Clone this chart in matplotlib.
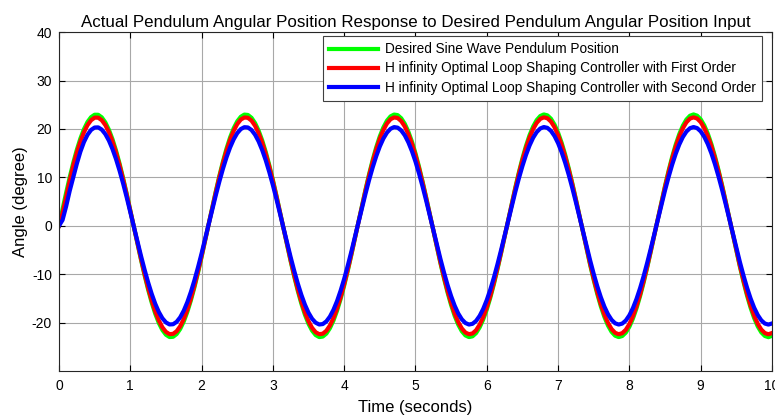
import numpy as np
import matplotlib

matplotlib.use("Agg")
import matplotlib.pyplot as plt

# sample times (s), 0.05 s step
time_s = np.linspace(0.0, 10.0, 201)

# desired sine wave pendulum position (deg)
desired = [
    0.00, 3.44, 6.80, 10.00, 12.99, 15.68, 18.02, 19.95, 21.44, 22.44,
    22.94, 22.93, 22.40, 21.36, 19.85, 17.90, 15.54, 12.83, 9.83, 6.61,
    3.25, -0.19, -3.63, -6.98, -10.18, -13.15, -15.82, -18.14, -20.05, -21.51,
    -22.48, -22.96, -22.91, -22.35, -21.29, -19.76, -17.77, -15.39, -12.67, -9.66,
    -6.43, -3.05, 0.39, 3.82, 7.16, 10.35, 13.30, 15.96, 18.26, 20.14,
    21.57, 22.52, 22.97, 22.89, 22.31, 21.22, 19.66, 17.65, 15.25, 12.51,
    9.48, 6.24, 2.86, -0.58, -4.01, -7.35, -10.52, -13.46, -16.10, -18.37,
    -20.23, -21.64, -22.55, -22.97, -22.86, -22.25, -21.13, -19.54, -17.52, -15.10,
    -12.34, -9.30, -6.05, -2.67, 0.77, 4.20, 7.53, 10.70, 13.62, 16.24,
    18.49, 20.33, 21.71, 22.60, 22.98, 22.86, 22.21, 21.07, 19.45, 17.40,
    14.96, 12.18, 9.12, 5.87, 2.48, -0.97, -4.39, -7.71, -10.87, -13.77,
    -16.37, -18.60, -20.41, -21.76, -22.62, -22.97, -22.81, -22.14, -20.96, -19.33,
    -17.27, -14.81, -12.02, -8.95, -5.68, -2.29, 1.16, 4.58, 7.90, 11.04,
    13.93, 16.51, 18.72, 20.50, 21.83, 22.67, 23.00, 22.81, 22.11, 20.91,
    19.24, 17.15, 14.66, 11.85, 8.77, 5.49, 2.10, -1.35, -4.77, -8.08,
    -11.21, -14.08, -16.64, -18.83, -20.59, -21.88, -22.68, -22.97, -22.75, -22.04,
    -20.83, -19.14, -17.02, -14.52, -11.70, -8.60, -5.31, -1.90, 1.55, 4.96,
    8.26, 11.38, 14.24, 16.78, 18.94, 20.68, 21.95, 22.73, 23.00, 22.75,
    22.00, 20.75, 19.03, 16.88, 14.36, 11.51, 8.41, 5.12, 1.71, -1.74,
    -5.15, -8.44, -11.54, -14.39, -16.91, -19.05, -20.76, -21.99, -22.74, -22.99,
    -22.72,
]

# first order H-infinity loop shaping controller response (deg)
first_order = [
    0.00, 2.60, 6.00, 9.30, 12.40, 15.10, 17.40, 19.30, 20.80, 21.80,
    22.34, 22.33, 21.81, 20.81, 19.34, 17.43, 15.13, 12.49, 9.57, 6.44,
    3.16, -0.19, -3.53, -6.80, -9.91, -12.80, -15.41, -17.66, -19.52, -20.95,
    -21.90, -22.36, -22.31, -21.77, -20.74, -19.24, -17.31, -14.99, -12.34, -9.40,
    -6.26, -2.97, 0.38, 3.72, 6.98, 10.08, 12.96, 15.54, 17.78, 19.62,
    21.01, 21.94, 22.37, 22.30, 21.73, 20.67, 19.14, 17.19, 14.85, 12.18,
    9.23, 6.08, 2.79, -0.56, -3.90, -7.16, -10.25, -13.11, -15.68, -17.89,
    -19.71, -21.07, -21.97, -22.37, -22.27, -21.67, -20.58, -19.03, -17.06, -14.71,
    -12.02, -9.06, -5.90, -2.60, 0.75, 4.09, 7.34, 10.42, 13.26, 15.81,
    18.01, 19.79, 21.14, 22.01, 22.38, 22.26, 21.63, 20.52, 18.94, 16.95,
    14.57, 11.86, 8.89, 5.71, 2.41, -0.94, -4.28, -7.51, -10.58, -13.41,
    -15.94, -18.12, -19.88, -21.19, -22.03, -22.37, -22.22, -21.56, -20.41, -18.83,
    -16.82, -14.43, -11.71, -8.72, -5.53, -2.23, 1.13, 4.46, 7.69, 10.75,
    13.56, 16.08, 18.23, 19.97, 21.26, 22.08, 22.40, 22.21, 21.53, 20.37,
    18.74, 16.70, 14.28, 11.54, 8.54, 5.35, 2.04, -1.32, -4.64, -7.87,
    -10.91, -13.72, -16.21, -18.34, -20.05, -21.31, -22.09, -22.38, -22.16, -21.46,
    -20.29, -18.64, -16.58, -14.14, -11.39, -8.38, -5.17, -1.85, 1.51, 4.83,
    8.04, 11.08, 13.87, 16.34, 18.45, 20.14, 21.38, 22.14, 22.40, 22.16,
    21.42, 20.20, 18.53, 16.44, 13.99, 11.21, 8.19, 4.98, 1.66, -1.69,
    -5.01, -8.22, -11.24, -14.01, -16.47, -18.55, -20.22, -21.42, -22.14, -22.39,
    -22.13,
]

# second order H-infinity loop shaping controller response (deg)
second_order = [
    0.00, 1.20, 4.00, 7.20, 10.00, 12.80, 15.30, 17.30, 18.80, 19.80,
    20.30, 20.33, 19.87, 18.95, 17.61, 15.87, 13.78, 11.38, 8.72, 5.87,
    2.88, -0.17, -3.22, -6.19, -9.03, -11.66, -14.03, -16.09, -17.78, -19.08,
    -19.94, -20.36, -20.32, -19.83, -18.89, -17.52, -15.77, -13.65, -11.23, -8.56,
    -5.70, -2.71, 0.34, 3.39, 6.35, 9.18, 11.80, 14.16, 16.19, 17.86,
    19.14, 19.98, 20.37, 20.31, 19.79, 18.82, 17.43, 15.65, 13.53, 11.09,
    8.41, 5.53, 2.54, -0.51, -3.56, -6.52, -9.33, -11.94, -14.28, -16.30,
    -17.95, -19.19, -20.00, -20.37, -20.28, -19.73, -18.74, -17.33, -15.54, -13.39,
    -10.95, -8.25, -5.37, -2.37, 0.69, 3.73, 6.68, 9.49, 12.08, 14.40,
    16.40, 18.03, 19.25, 20.04, 20.39, 20.27, 19.70, 18.69, 17.25, 15.43,
    13.27, 10.80, 8.09, 5.20, 2.20, -0.86, -3.89, -6.84, -9.64, -12.22,
    -14.52, -16.50, -18.11, -19.30, -20.06, -20.38, -20.23, -19.63, -18.59, -17.15,
    -15.32, -13.14, -10.67, -7.94, -5.04, -2.03, 1.03, 4.06, 7.00, 9.79,
    12.35, 14.64, 16.60, 18.18, 19.36, 20.10, 20.40, 20.23, 19.61, 18.55,
    17.07, 15.21, 13.01, 10.51, 7.78, 4.87, 1.86, -1.20, -4.23, -7.16,
    -9.94, -12.49, -14.76, -16.70, -18.26, -19.41, -20.12, -20.38, -20.18, -19.55,
    -18.47, -16.98, -15.10, -12.88, -10.38, -7.63, -4.71, -1.69, 1.37, 4.40,
    7.33, 10.09, 12.63, 14.88, 16.80, 18.34, 19.47, 20.16, 20.40, 20.18,
    19.51, 18.40, 16.88, 14.98, 12.74, 10.21, 7.46, 4.54, 1.52, -1.54,
    -4.57, -7.48, -10.24, -12.76, -15.00, -16.90, -18.41, -19.51, -20.17, -20.39,
    -20.16,
]

labels = [
    "Desired Sine Wave Pendulum Position",
    "H infinity Optimal Loop Shaping Controller with First Order",
    "H infinity Optimal Loop Shaping Controller with Second Order",
]
colors = ["#00ff00", "#ff0000", "#0000ff"]

plt.rcParams["font.family"] = ["Liberation Sans", "DejaVu Sans"]
plt.rcParams["axes.unicode_minus"] = False

fig = plt.figure(figsize=(7.75, 4.17), dpi=100)
ax = fig.add_axes([0.0761, 0.110, 0.920, 0.813])

for series, label, color in zip([desired, first_order, second_order], labels, colors):
    ax.plot(time_s, series, color=color, linewidth=3, label=label,
            solid_joinstyle="round")

ax.set_xlim(0, 10)
ax.set_ylim(-30, 40)
ax.set_xticks(range(0, 11))
ax.set_yticks(range(-20, 41, 10))
ax.grid(True, color="#a8a8a8", linewidth=0.8)
ax.set_axisbelow(True)
ax.tick_params(direction="in", labelsize=10, length=4, top=True, right=True)
ax.tick_params(axis="x", pad=6)
ax.tick_params(axis="y", pad=5)
for spine in ax.spines.values():
    spine.set_color("#262626")
    spine.set_linewidth(0.8)

ax.set_title("Actual Pendulum Angular Position Response to Desired Pendulum Angular Position Input",
             fontsize=12.2, pad=4)
ax.set_xlabel("Time (seconds)", fontsize=12, labelpad=5)
ax.set_ylabel("Angle (degree)", fontsize=12, labelpad=3)

leg = ax.legend(loc="upper right", bbox_to_anchor=(0.986, 0.988), borderaxespad=0,
                fontsize=9.8, handlelength=3.6, fancybox=False, framealpha=1,
                edgecolor="#404040", borderpad=0.45, labelspacing=0.38,
                handletextpad=0.5)
leg.get_frame().set_linewidth(0.8)

fig.savefig("out.png", dpi=100)
